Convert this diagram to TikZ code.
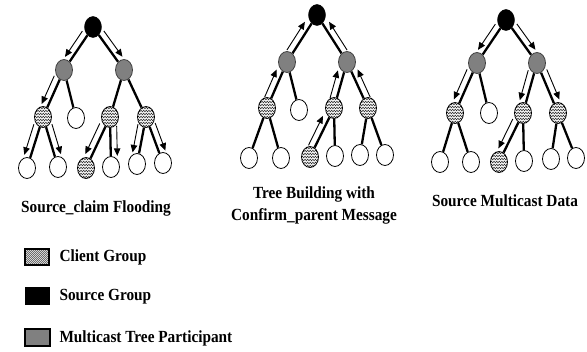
\documentclass[tikz,border=0pt]{standalone}
\usepackage{fontspec}
\setmainfont{Liberation Serif}[FakeStretch=0.9]
\usetikzlibrary{shapes.geometric,calc,arrows.meta,decorations.pathmorphing,backgrounds}
\definecolor{pgray}{HTML}{808080}
\tikzset{
  nd/.style={ellipse, minimum width=17pt, minimum height=21pt, inner sep=0pt},
  wn/.style={nd, draw=black, line width=0.8pt, fill=white},
  gn/.style={nd, draw=black!75, line width=0.8pt, fill=pgray},
  bn/.style={nd, draw=black, fill=black},
  zz/.style={path picture={\foreach \k in {-4,...,4}
      \draw[black!85, line width=0.5pt, decorate, decoration={zigzag, amplitude=0.9pt, segment length=2.6pt}]
      ($(path picture bounding box.center)+(-16pt,{\k*3pt})$) -- ++(32pt,0pt);}},
  hn/.style={nd, draw=black, line width=0.8pt, fill=white, zz},
  tedge/.style={line width=2.3pt, black},
  farrow/.style={line width=0.9pt, -{Triangle[length=7.5pt,width=6.5pt]}},
  captxt/.style={font=\bfseries\fontsize{17}{19}\selectfont, align=center},
  legtxt/.style={font=\bfseries\fontsize{17}{19}\selectfont, anchor=west}
}
\newcommand\farr[3]{\draw[farrow] ($(#1)!0.18!(#2)!6.5pt!#3:(#2)$) -- ($(#1)!0.78!(#2)!6.5pt!#3:(#2)$);}
\newcommand\tedges[1]{%
  \foreach \u/\v in {r/a,r/b,a/c,a/d,b/e,b/f,c/g,c/h,e/i,e/j,f/k,f/l}
    \draw[tedge] (#1\u) -- (#1\v);}
\begin{document}
\begin{tikzpicture}[x=1pt,y=-1pt]
\useasboundingbox (0,0) rectangle (587,352);
% ---------- Tree 1 ----------
\node[bn] (Ar) at (93,27) {};
\node[gn] (Aa) at (64,70) {};
\node[gn] (Ab) at (124,70) {};
\node[hn] (Ac) at (43,117) {};
\node[wn] (Ad) at (76,118) {};
\node[hn] (Ae) at (110,117) {};
\node[hn] (Af) at (146,117) {};
\node[wn] (Ag) at (27,168) {};
\node[wn] (Ah) at (58,167) {};
\node[hn] (Ai) at (86,168) {};
\node[wn] (Aj) at (111,167) {};
\node[wn] (Ak) at (137,164) {};
\node[wn] (Al) at (163,163) {};
% ---------- Tree 2 ----------
\node[bn] (Br) at (317,15) {};
\node[gn] (Ba) at (287,62) {};
\node[gn] (Bb) at (347,62) {};
\node[hn] (Bc) at (267,108) {};
\node[wn] (Bd) at (299,110) {};
\node[hn] (Be) at (334,108) {};
\node[hn] (Bf) at (368,108) {};
\node[wn] (Bg) at (249,158) {};
\node[wn] (Bh) at (281,158) {};
\node[hn] (Bi) at (310,157) {};
\node[wn] (Bj) at (335,156) {};
\node[wn] (Bk) at (360,155) {};
\node[wn] (Bl) at (385,155) {};
% ---------- Tree 3 ----------
\node[bn] (Cr) at (506,20) {};
\node[gn] (Ca) at (477,63) {};
\node[gn] (Cb) at (537,63) {};
\node[hn] (Cc) at (455,113) {};
\node[wn] (Cd) at (489,113) {};
\node[hn] (Ce) at (523,113) {};
\node[hn] (Cf) at (558,113) {};
\node[wn] (Cg) at (440,162) {};
\node[wn] (Ch) at (471,162) {};
\node[hn] (Ci) at (499,162) {};
\node[wn] (Cj) at (524,161) {};
\node[wn] (Ck) at (551,159) {};
\node[wn] (Cl) at (576,158) {};
\begin{pgfonlayer}{background}
  \tedges{A}\tedges{B}\tedges{C}
\end{pgfonlayer}
% arrows tree 1 (flooding, downward)
\farr{Ar}{Aa}{-90}\farr{Ar}{Ab}{90}\farr{Aa}{Ac}{-90}
\farr{Ac}{Ag}{-90}\farr{Ac}{Ah}{90}
\farr{Ae}{Ai}{-90}\farr{Ae}{Aj}{90}
\farr{Af}{Ak}{-90}\farr{Af}{Al}{90}
% arrows tree 2 (confirm parent, upward)
\farr{Ba}{Br}{90}\farr{Bb}{Br}{-90}
\farr{Bc}{Ba}{90}\farr{Be}{Bb}{90}\farr{Bf}{Bb}{-90}
\farr{Bi}{Be}{90}
% arrows tree 3 (multicast data, downward)
\farr{Cr}{Ca}{-90}\farr{Cr}{Cb}{90}\farr{Ca}{Cc}{-90}
\farr{Cb}{Ce}{-90}\farr{Cb}{Cf}{90}\farr{Ce}{Ci}{-90}
% captions
\node[captxt] (capA) at (96,208) {Source\_claim Flooding};
\node[captxt] (capB) at (314,205) {Tree Building with\\[3pt]Confirm\_parent Message};
\node[captxt] (capC) at (505,201) {Source Multicast Data};
% legend
\node[draw=black, line width=1.8pt, fill=white, minimum width=24pt, minimum height=16pt, inner sep=0pt,
  path picture={\foreach \k in {-4,...,4}
      \draw[black!70, line width=0.4pt, decorate, decoration={zigzag, amplitude=0.6pt, segment length=2pt}]
      ($(path picture bounding box.center)+(-16pt,{\k*2pt})$) -- ++(32pt,0pt);}] (lc) at (37,257) {};
\node[fill=black, minimum width=25pt, minimum height=18pt, inner sep=0pt] (ls) at (37,296) {};
\node[draw=black, line width=2pt, fill=pgray, minimum width=25pt, minimum height=17pt, inner sep=0pt] (lm) at (37.5,337.5) {};
\node[legtxt] (tc) at (56,257) {Client Group};
\node[legtxt] (ts) at (56,297) {Source Group};
\node[legtxt] (tm) at (56,338) {Multicast Tree Participant};
\end{tikzpicture}
\end{document}
